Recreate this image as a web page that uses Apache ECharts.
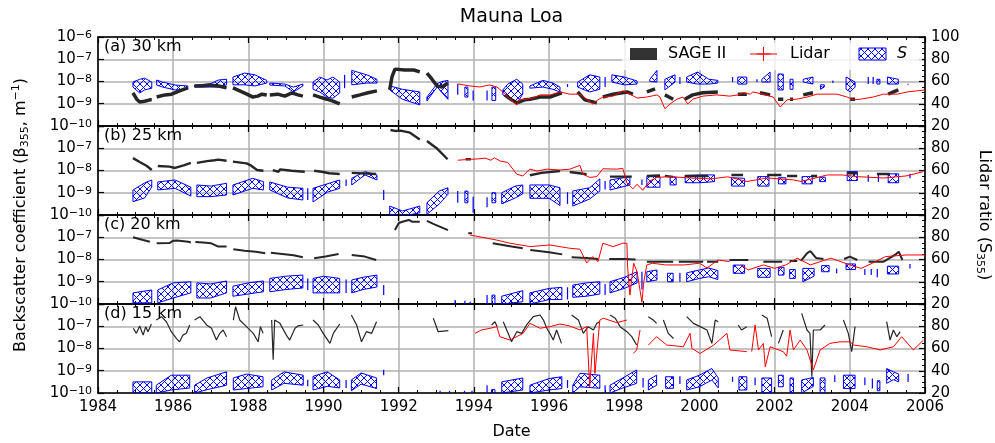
<!DOCTYPE html>
<html><head><meta charset="utf-8">
<script src="https://cdn.jsdelivr.net/npm/echarts@6/dist/echarts.min.js"></script>
<style>html,body{margin:0;padding:0;background:#fff}#c{width:995px;height:443px}</style>
</head><body><div id="c"></div>
<script>
// ---------------- DATA (decimal year, value) ----------------
const panelLabels = ['(a) 30 km', '(b) 25 km', '(c) 20 km', '(d) 15 km'];
const seriesNames = ['SAGE II', 'Lidar', 'S'];

const sageA = [
[1984.93,3.1e-9],[1985.03,1.6e-9],[1985.11,1.2e-9],[1985.24,1.3e-9],[1985.38,1.5e-9],[1985.43,1.5e-9],null,
[1985.56,2.0e-9],[1985.78,2.5e-9],[1985.96,2.7e-9],[1986.17,3.8e-9],[1986.39,5.2e-9],null,
[1986.57,6.3e-9],[1986.79,6.5e-9],[1986.97,7.0e-9],[1987.21,6.3e-9],[1987.42,5.2e-9],null,
[1987.59,5.2e-9],[1987.77,3.8e-9],[1987.96,2.7e-9],[1988.12,2.0e-9],[1988.25,2.2e-9],[1988.36,2.7e-9],[1988.49,2.5e-9],null,
[1988.57,2.5e-9],[1988.78,2.7e-9],[1988.97,2.2e-9],[1989.16,3.1e-9],[1989.32,2.5e-9],[1989.45,2.2e-9],null,
[1989.72,2.5e-9],[1989.90,2.0e-9],[1990.09,1.6e-9],[1990.25,1.3e-9],[1990.43,9.8e-10],null,
[1990.75,2.0e-9],[1990.97,2.5e-9],[1991.18,3.1e-9],[1991.42,3.8e-9],null,
[1991.76,4.2e-9],[1991.82,1.6e-8],[1991.90,3.6e-8],[1992.16,3.3e-8],[1992.40,3.3e-8],[1992.56,2.7e-8],null,
[1992.75,2.4e-8],[1992.88,1.3e-8],[1993.02,6.3e-9],[1993.15,5.7e-9],[1993.31,8.6e-9],null,
[1994.82,2.5e-9],[1995.00,1.5e-9],[1995.14,1.1e-9],[1995.35,1.5e-9],[1995.49,1.6e-9],[1995.76,2.0e-9],[1996.02,2.0e-9],[1996.34,3.1e-9],null,
[1996.76,3.4e-9],[1996.95,1.5e-9],[1997.27,1.1e-9],null,
[1997.43,2.0e-9],[1997.70,2.7e-9],[1998.07,3.4e-9],[1998.23,2.7e-9],null,
[1998.60,3.4e-9],[1998.82,4.7e-9],null,
[1999.08,2.5e-9],[1999.30,1.6e-9],null,
[1999.61,1.6e-9],[1999.82,2.5e-9],[2000.09,3.1e-9],[2000.49,3.4e-9],null,
[2001.02,2.7e-9],[2001.26,2.7e-9],null,
[2001.61,3.1e-9],[2001.88,2.5e-9],null,
[2002.09,1.6e-9],[2002.23,1.6e-9],null,
[2002.41,1.6e-9],[2002.49,1.6e-9],null,
[2002.76,2.5e-9],[2003.02,3.1e-9],null,
[2004.01,1.6e-9],[2004.14,1.6e-9],null,
[2005.02,2.7e-9],[2005.29,4.2e-9]
];
const lidarA = [
[1993.57,7.8e-9],[1993.89,6.3e-9],[1994.16,5.7e-9],[1994.42,7.0e-9],[1994.61,5.7e-9],[1994.77,3.4e-9],[1994.96,1.6e-9],[1995.14,8.8e-10],[1995.22,1.5e-9],[1995.35,1.6e-9],[1995.57,1.8e-9],[1995.76,2.5e-9],[1996.02,2.5e-9],[1996.29,3.4e-9],[1996.55,2.7e-9],[1996.82,2.7e-9],[1997.00,1.6e-9],[1997.16,9.8e-10],[1997.30,1.5e-9],[1997.43,2.0e-9],[1997.70,2.2e-9],[1997.96,3.8e-9],[1998.15,2.7e-9],[1998.34,1.8e-9],[1998.60,2.0e-9],[1998.87,2.5e-9],[1998.95,2.0e-9],[1999.08,6.0e-10],[1999.22,9.8e-10],[1999.40,1.6e-9],[1999.56,2.0e-9],[1999.69,9.8e-10],[1999.82,1.6e-9],[2000.09,2.2e-9],[2000.46,2.5e-9],[2000.81,2.2e-9],[2001.02,2.5e-9],[2001.16,3.1e-9],[2001.35,2.7e-9],[2001.42,3.4e-9],[2001.69,2.7e-9],[2001.96,2.0e-9],[2002.15,7.1e-10],[2002.33,1.5e-9],[2002.59,1.6e-9],[2002.86,2.0e-9],[2003.13,2.7e-9],[2003.39,2.7e-9],[2003.66,2.7e-9],[2003.93,2.0e-9],[2004.09,1.5e-9],[2004.28,1.6e-9],[2004.62,2.0e-9],[2004.89,2.7e-9],[2005.26,2.7e-9],[2005.53,3.4e-9],[2005.79,3.8e-9],[2006.0,4.2e-9]
];
const sA = [
[1984.93,55,59.5],[1985.11,49.7,62],[1985.24,52.4,63],[1985.43,54,59.5],null,
[1985.56,56.8,61.3],[1985.72,55,59.5],[1986.05,52.4,56.8],[1986.39,53,56],null,
[1986.57,55,56.8],[1986.97,55,57.7],[1987.2,55,61.3],[1987.42,57,62],null,
[1987.59,57,64],[1987.9,57,67.6],[1988.17,56,66],[1988.49,58.6,61],null,
[1988.57,56.8,58.6],[1988.97,56,57.7],[1989.2,50.6,55],[1989.45,56,57.7],null,
[1989.72,53,59.5],[1989.9,50.6,64],[1990.09,46,61.3],[1990.25,45,64],[1990.43,49.7,59.5],null,
[1990.56,54,66],null,
[1990.75,57,70],[1991.15,58.6,66],[1991.42,58.6,62],null,
[1991.76,52.4,56],[1992.1,44,53],[1992.56,39,50.6],null,
[1992.75,42.5,46],[1993.02,55,58],[1993.15,50,60],[1993.31,44,61],null,
[1993.57,48,57.7],null,
[1993.76,46,55],[1993.84,46,55],null,
[1993.98,43,52],null,
[1994.35,43,52],null,
[1994.48,43,55],[1994.58,43,55],null,
[1994.77,47.9,52.4],[1994.9,46,57.7],[1995.14,40,62],[1995.3,48.8,57.7],null,
[1995.49,54,56],[1995.84,55,61],[1996.1,53,58.6],[1996.29,50.6,55],null,
[1996.49,55,57.7],null,
[1996.76,55,59.5],[1997.08,50.6,66],[1997.35,53,64],null,
[1997.49,55,64],null,
[1997.67,59.5,66],[1998.0,57,64],[1998.34,57.7,60.5],null,
[1998.68,60,62],[1998.87,59.5,70],null,
[1999.08,52.4,62],[1999.35,59.5,66],null,
[1999.48,57.7,64],null,
[1999.66,59.5,64],[1999.95,57.7,68.5],[2000.25,57.7,62],[2000.49,58.6,61],null,
[2000.88,59.5,64],null,
[2001.02,57.7,64],[2001.26,57.7,64],null,
[2001.53,59.5,62],null,
[2001.66,59.5,62],[2001.88,59.5,68.5],null,
[2002.09,52.4,66.7],[2002.23,52.4,66.7],null,
[2002.41,53,62],[2002.49,53,62],null,
[2002.76,59.5,62],[2003.02,57.7,64],null,
[2003.22,53,57],[2003.32,55,57],null,
[2003.55,58.6,61],null,
[2003.9,53,64],[2004.01,50.6,62],[2004.14,55,59.5],null,
[2004.49,57.7,64],null,
[2004.62,57.7,64],null,
[2004.72,57.7,62],[2004.8,57.7,62],null,
[2005.0,57.7,64],[2005.29,57.7,62],null,
[2005.55,57,58]
];

const sageB = [
[1984.93,3.6e-8],[1985.11,2.4e-8],[1985.3,1.6e-8],[1985.43,1.05e-8],null,
[1985.59,1.6e-8],[1985.9,1.5e-8],[1986.05,1.3e-8],[1986.3,1.76e-8],[1986.47,2.2e-8],null,
[1986.63,2.2e-8],[1986.9,2.65e-8],[1987.1,2.9e-8],[1987.2,3.1e-8],[1987.42,2.75e-8],null,
[1987.59,2.5e-8],[1987.95,2.1e-8],[1988.05,1.76e-8],[1988.23,1.05e-8],[1988.4,9.8e-9],null,
[1988.65,1.05e-8],[1988.8,8.8e-9],[1988.85,1.13e-8],[1989.15,9.8e-9],[1989.5,8.8e-9],null,
[1989.75,9.8e-9],[1989.95,8.8e-9],[1990.15,7.5e-9],[1990.43,7.0e-9],null,
[1990.75,7.8e-9],[1991.4,7.0e-9],null,
[1991.78,6.6e-7],[1991.9,6.0e-7],[1992.05,6.2e-7],[1992.3,5.0e-7],[1992.56,2.5e-7],null,
[1992.75,2.1e-7],[1993.0,1.03e-7],[1993.3,3.2e-8],null,
[1993.78,3.2e-8],[1993.92,3.2e-8],null,
[1995.49,6.1e-9],[1995.8,7.8e-9],[1996.29,9.5e-9],null,
[1996.55,8.6e-9],[1997.0,6.8e-9],null,
[1997.62,5.3e-9],[1998.2,5.3e-9],null,
[1998.6,5.7e-9],[1998.95,6.0e-9],null,
[1999.08,5.7e-9],[1999.3,5.2e-9],null,
[1999.61,5.7e-9],[2000.23,5.7e-9],null,
[2000.85,6.3e-9],[2001.16,6.3e-9],null,
[2001.8,6.3e-9],[2002.18,6.3e-9],null,
[2002.33,5.7e-9],[2002.6,5.7e-9],null,
[2002.97,5.7e-9],[2003.13,5.7e-9],null,
[2003.93,7.5e-9],[2004.2,7.5e-9],null,
[2004.72,7.0e-9],[2005.06,7.0e-9]
];
const lidarB = [
[1993.57,2.9e-8],[1993.93,3.2e-8],[1994.1,3.3e-8],[1994.3,3.6e-8],[1994.45,2.9e-8],[1994.55,3.7e-8],[1994.7,2.65e-8],[1994.9,2.3e-8],[1995.14,6.8e-9],[1995.3,5.7e-9],[1995.49,1.15e-8],[1995.68,9.5e-9],[1995.95,1.15e-8],[1996.29,1.05e-8],[1996.55,1.15e-8],[1996.82,1.7e-8],[1996.9,6.8e-9],[1997.08,4.9e-9],[1997.27,5.3e-9],[1997.43,1.2e-8],[1997.8,1.15e-8],[1997.96,1.25e-8],[1998.07,2.8e-9],[1998.23,1.5e-9],[1998.34,2.4e-9],[1998.49,1.3e-9],[1998.68,3.4e-9],[1998.87,4.9e-9],[1999.22,5.3e-9],[1999.75,4.6e-9],[2000.3,4.2e-9],[2000.75,5.2e-9],[2000.9,4.6e-9],[2001.26,3.2e-9],[2001.8,4.6e-9],[2002.5,3.8e-9],[2002.7,3.2e-9],[2003.4,6.3e-9],[2003.8,6.3e-9],[2004.2,5.3e-9],[2004.9,4.6e-9],[2005.5,5.7e-9],[2005.95,8.8e-9]
];
const sB = [
[1984.93,32,42.5],[1985.24,35.3,48.8],[1985.43,45.2,51.5],null,
[1985.59,42.5,49.7],[1986.05,44,51.5],[1986.47,37,45],null,
[1986.63,36.5,47],[1987.0,36.5,46],[1987.42,38,48.5],null,
[1987.59,38,47],[1988.12,44,53],[1988.4,42.5,50],null,
[1988.57,42.5,49.7],[1989.05,35.3,45],[1989.45,33.5,44],null,
[1989.58,33.5,44],null,
[1989.72,31.7,44],[1990.1,40.5,48],[1990.43,44,51.5],null,
[1990.6,46,52],null,
[1990.75,47,53],[1991.1,56,59],[1991.42,51.5,56],null,
[1991.6,33.5,42.5],null,
[1991.76,20.6,28],[1992.1,19,23.6],[1992.56,22,28],null,
[1992.75,20.6,31],[1993.08,30,41.6],[1993.31,38.6,44.5],null,
[1993.57,31,41.5],null,
[1993.76,31,41.5],[1993.84,31,41.5],null,
[1993.98,22,36.5],null,
[1994.35,27,36],null,
[1994.48,31,40],[1994.58,31,40],null,
[1994.74,30,40],[1995.1,35.3,46],[1995.3,39,47],null,
[1995.49,35,47],[1996.0,35,47],[1996.29,28.5,44.5],null,
[1996.49,30,40.5],null,
[1996.63,28,41.6],[1997.08,34.4,44.5],[1997.35,41.6,52.4],null,
[1997.49,43,50.6],null,
[1997.62,42.5,51.5],[1998.15,47,54.4],null,
[1998.47,47,52],null,
[1998.6,45,54.5],[1998.95,45,54.5],null,
[1999.22,47,54.5],[1999.38,47,54],null,
[1999.62,49,55.5],[2000.0,49,56],[2000.4,50,56],null,
[2000.85,46,53.5],[2001.2,46,53],null,
[2001.55,46,54.5],[2001.85,46,54.5],null,
[2002.1,48,53.5],[2002.3,48,53.5],null,
[2002.73,48,54.5],[2003.0,48,54.5],null,
[2003.2,50,54],[2003.35,50,54],null,
[2003.93,51,59],[2004.2,51,59],null,
[2004.49,50,56],null,
[2004.76,50,56],null,
[2005.02,49,57],[2005.3,49,57],null,
[2005.6,53,57]
];

const sageC = [
[1984.93,1.0e-7],[1985.2,7.5e-8],[1985.38,6.3e-8],null,
[1985.56,5.4e-8],[1985.9,5.5e-8],[1986.0,7.0e-8],[1986.1,7.2e-8],[1986.4,6.3e-8],[1986.47,5.8e-8],null,
[1986.59,6.1e-8],[1986.8,5.8e-8],[1987.0,5.4e-8],[1987.2,3.8e-8],[1987.42,3.8e-8],null,
[1987.6,2.9e-8],[1987.9,2.5e-8],[1988.2,2.25e-8],[1988.45,1.9e-8],null,
[1988.6,2.0e-8],[1988.9,1.76e-8],[1989.2,1.55e-8],[1989.45,1.25e-8],null,
[1989.75,1.15e-8],[1990.05,1.35e-8],[1990.4,1.76e-8],null,
[1990.75,1.6e-8],[1991.1,1.35e-8],[1991.4,9.5e-9],null,
[1991.9,2.1e-7],[1992.0,4.4e-7],[1992.1,5.0e-7],[1992.27,6.0e-7],[1992.35,5.0e-7],[1992.56,5.0e-7],null,
[1992.75,5.4e-7],[1992.95,3.8e-7],[1993.31,2.1e-7],null,
[1993.85,1.5e-7],[1993.95,1.5e-7],null,
[1994.5,5.4e-8],[1995.0,3.8e-8],[1995.3,3.2e-8],null,
[1995.5,2.65e-8],[1996.0,2.1e-8],[1996.35,1.7e-8],null,
[1996.6,1.25e-8],[1997.0,1.17e-8],[1997.3,1.05e-8],null,
[1997.6,1.05e-8],[1998.0,1.05e-8],[1998.3,1.0e-8],null,
[1998.6,8.0e-9],[1999.3,8.0e-9],null,
[1999.45,8.0e-9],[2000.1,8.0e-9],null,
[2000.2,8.0e-9],[2000.5,8.0e-9],null,
[2000.8,9.5e-9],[2001.3,9.5e-9],null,
[2001.7,8.0e-9],[2002.2,8.0e-9],null,
[2002.4,8.6e-9],[2002.6,8.6e-9],null,
[2002.7,8.6e-9],[2002.86,1.9e-8],[2002.95,2.4e-8],[2003.1,1.17e-8],[2003.3,1.05e-8],null,
[2003.85,1.05e-8],[2004.0,1.35e-8],[2004.2,9.5e-9],null,
[2004.5,8.0e-9],[2004.9,8.0e-9],[2005.2,1.6e-8],[2005.3,2.25e-8],[2005.4,9.5e-9]
];
const lidarC = [
[1993.9,1.26e-7],[1994.6,7.5e-8],[1994.96,5.4e-8],[1995.5,3.8e-8],[1996.02,4.5e-8],[1996.55,3.2e-8],[1996.82,2.9e-8],[1997.0,7.0e-9],[1997.16,1.35e-8],[1997.3,8.0e-9],[1997.43,5.4e-8],[1997.7,3.8e-8],[1997.96,5.4e-8],[1998.07,5.4e-8],[1998.09,4.2e-9],[1998.15,2.5e-10],[1998.25,6.8e-9],[1998.34,2.8e-9],[1998.47,1.2e-10],[1998.52,1.0e-9],[1998.6,5.7e-9],[1998.75,6.8e-9],[1999.1,5.7e-9],[1999.6,5.7e-9],[2000.0,6.8e-9],[2000.2,4.2e-9],[2000.5,9.5e-9],[2000.8,8.0e-9],null,
[2001.1,5.7e-9],[2001.3,3.4e-9],[2001.7,5.7e-9],[2002.0,4.0e-9],[2002.3,5.7e-9],[2002.6,1.15e-8],[2002.95,5.7e-9],[2003.5,1.15e-8],[2004.0,5.7e-9],[2004.3,4.0e-9],[2004.6,6.8e-9],[2004.95,1.35e-8],[2005.5,1.6e-8],[2006.0,1.6e-8]
];
const sC = [
[1984.93,21,30],[1985.43,21,32.6],null,
[1985.59,21,32.6],[1986.0,25.4,39],[1986.47,30,40],null,
[1986.63,25.4,39],[1987.0,25.4,38],[1987.42,30,40.7],null,
[1987.59,27,36],[1988.0,29,39],[1988.4,31,40.7],null,
[1988.57,31,43],[1989.0,33,45],[1989.45,34.4,46],null,
[1989.58,32.5,43],null,
[1989.72,30,43],[1990.0,30,45],[1990.43,30,43],null,
[1990.6,30,42],null,
[1990.75,30,41.6],[1991.05,33,44],[1991.42,35.3,46],null,
[1991.6,28,37],null,
[1993.5,20,23.6],null,[1993.76,20,23],null,[1993.9,20,22],null,
[1994.35,20,28],null,
[1994.48,20,28],[1994.56,20,28],null,
[1994.74,20,27],[1995.3,22,32],null,
[1995.49,20,30],[1996.0,24,34],[1996.34,24,35],null,
[1996.49,24,35],null,
[1996.63,26,37],[1997.0,27,39],[1997.35,29,40],null,
[1997.49,28,38],null,
[1997.62,30,40],[1998.0,34,44],[1998.34,39,49],null,
[1998.47,33,49],null,
[1998.6,40,49],[1998.87,41.6,50.6],null,
[1999.15,40,47.6],[1999.3,40,47.6],null,
[1999.48,40,48],null,
[1999.66,40,48],[2000.0,43,50.6],[2000.25,44.5,52.4],[2000.49,42,50],null,
[2000.9,47.6,55],[2001.2,47.6,55],null,
[2001.55,44,52],[2001.88,44,52],null,
[2002.1,46,53],[2002.25,46,53],null,
[2002.4,43,51],[2002.55,43,51],null,
[2002.75,40,52],[2003.05,45,52],null,
[2003.25,49,54.5],[2003.45,49,54.5],null,
[2003.65,47.6,52],null,
[2003.9,51,56],[2004.15,51,56],null,
[2004.4,46,51.5],null,[2004.57,46,51.5],null,
[2004.73,44,51.5],null,
[2005.0,47,54],[2005.3,47,54],null,
[2005.6,52,56]
];

const sageD = [
[1984.94,8.1e-8],[1985.02,4.8e-8],[1985.11,1.03e-7],[1985.2,4.0e-8],[1985.27,9.6e-8],[1985.33,5.7e-8],[1985.42,1.26e-7],null,
[1985.55,1.9e-7],[1985.69,2.7e-7],[1985.82,1.6e-7],[1985.95,5.7e-8],[1986.09,2.8e-8],[1986.17,2.0e-8],[1986.26,4.0e-8],[1986.35,4.8e-8],[1986.44,1.14e-7],null,
[1986.57,1.9e-7],[1986.71,2.7e-7],[1986.89,1.14e-7],[1987.02,8.1e-8],[1987.15,2.4e-8],[1987.24,4.8e-8],[1987.33,6.8e-8],[1987.42,3.4e-8],null,
[1987.6,1.9e-7],[1987.66,7.6e-7],[1987.77,1.9e-7],[1987.95,9.6e-8],[1988.13,4.8e-8],[1988.26,2.0e-8],[1988.32,9.6e-8],[1988.39,4.8e-8],null,
[1988.62,1.9e-7],[1988.66,3.1e-9],[1988.7,1.9e-7],[1988.84,1.35e-7],[1989.01,4.0e-8],[1989.1,2.4e-8],[1989.24,8.1e-8],[1989.32,1.03e-7],[1989.46,1.14e-7],null,
[1989.72,1.9e-7],[1989.86,1.14e-7],[1989.99,4.8e-8],[1990.17,1.7e-8],[1990.26,4.8e-8],[1990.43,1.26e-7],null,
[1990.74,3.2e-7],[1990.88,1.14e-7],[1991.01,2.0e-8],[1991.14,5.7e-8],[1991.28,4.8e-8],[1991.41,1.6e-7],null,
[1992.92,2.3e-7],[1993.05,5.7e-8],[1993.32,6.3e-8],null,
[1994.47,1.14e-7],[1994.56,1.6e-7],[1994.62,9.6e-8],null,
[1994.78,1.6e-7],[1994.91,4.8e-8],[1995.0,2.0e-8],[1995.14,5.7e-8],[1995.27,4.8e-8],[1995.4,1.14e-7],[1995.58,2.7e-7],[1995.76,3.2e-7],[1995.85,1.9e-7],[1995.94,8.1e-8],[1996.02,4.8e-8],[1996.11,2.4e-8],[1996.2,6.8e-8],[1996.33,1.7e-8],null,
[1996.6,3.2e-7],[1996.78,1.9e-7],[1996.91,4.8e-8],[1997.04,9.6e-8],[1997.18,6.8e-8],[1997.27,1.35e-7],[1997.35,1.6e-7],null,
[1997.62,3.2e-7],[1997.76,2.3e-7],[1997.89,9.6e-8],[1998.07,5.7e-8],[1998.2,3.4e-8],[1998.33,1.43e-8],null,
[1998.64,2.7e-7],[1998.77,1.9e-7],[1998.86,1.35e-7],null,
[1999.04,1.9e-7],[1999.17,4.8e-8],[1999.31,2.8e-8],null,
[1999.66,2.7e-7],[1999.84,1.35e-7],[2000.02,9.6e-8],[2000.2,6.8e-8],[2000.33,1.7e-8],[2000.42,1.9e-7],[2000.5,1.6e-7],null,
[2001.03,1.14e-7],[2001.12,6.8e-8],[2001.26,9.6e-8],null,
[2001.66,3.2e-7],[2001.8,2.3e-7],[2001.92,3.4e-8],null,
[2002.1,1.7e-8],[2002.23,6.8e-8],null,
[2002.72,3.8e-7],[2002.86,6.8e-8],[2002.94,4.8e-8],[2002.99,5.4e-10],[2003.03,6.8e-8],[2003.21,6.8e-8],[2003.34,1.14e-7],null,
[2003.83,1.9e-7],[2003.96,4.8e-8],[2004.05,7.2e-9],[2004.14,9.6e-8],null,
[2004.98,1.6e-7],[2005.07,2.4e-8],[2005.16,6.8e-8],[2005.25,3.4e-8],[2005.34,5.7e-8]
];
const lidarD = [
[1994.03,4.8e-8],[1994.2,6.8e-8],[1994.43,8.1e-8],[1994.61,9.6e-8],[1994.69,3.4e-8],[1994.96,2.4e-8],[1995.31,4.8e-8],[1995.49,1.35e-7],[1995.76,8.1e-8],[1996.02,9.6e-8],[1996.29,1.26e-7],[1996.55,1.03e-7],[1996.82,6.8e-8],[1997.0,9.6e-8],[1997.08,1.9e-10],[1997.18,4.8e-8],[1997.22,7.6e-10],[1997.35,1.9e-7],[1997.44,2.3e-7],[1997.8,1.45e-7],[1998.07,1.9e-7],null,
[1998.24,6.0e-9],[1998.33,8.6e-9],[1998.42,6.8e-8],null,
[1998.64,1.43e-8],[1998.86,3.4e-8],[1999.13,1.43e-8],[1999.57,1.2e-8],[1999.75,4.8e-8],[1999.8,1.0e-8],[2000.02,6.0e-9],[2000.38,1.43e-8],[2000.73,4.8e-8],[2000.81,8.6e-9],[2001.26,7.2e-9],null,
[2001.39,7.2e-9],[2001.48,1.14e-7],[2001.57,8.6e-9],[2001.7,1.7e-8],[2001.75,1.5e-9],[2001.88,1.2e-8],[2002.23,7.2e-9],[2002.32,4.5e-9],[2002.41,6.8e-8],[2002.5,8.6e-9],[2002.68,2.4e-8],[2002.86,8.6e-9],[2003.03,1.1e-9],[2003.21,8.6e-9],[2003.47,1.7e-8],[2003.74,2.0e-8],[2004.01,2.0e-8],[2004.1,1.43e-8],[2004.45,1.2e-8],[2004.81,8.6e-9],[2005.16,1.2e-8],[2005.38,3.4e-8],[2005.69,8.6e-9],[2005.96,2.4e-8]
];
const sD = [
[1984.93,20,30],[1985.43,20,30],null,
[1985.55,20,27],[1985.95,22.7,36],[1986.44,24.5,36],null,
[1986.57,20,27],[1986.9,23,33.5],[1987.42,27,39],null,
[1987.6,22.7,33.5],[1987.95,24,37],[1988.39,25.6,34.6],null,
[1988.62,22.7,31.7],[1988.95,28.7,39],[1989.46,27,36],null,
[1989.58,26,32],null,
[1989.72,22.7,35],[1990.1,26,39],[1990.43,24.5,31.7],null,
[1990.6,24.5,31.7],null,
[1990.74,22,31.7],[1991.0,28,38],[1991.41,24,33.5],null,
[1991.6,36,41],null,
[1993.1,20,22],null,[1993.35,20,22],null,[1993.75,20,22],null,[1993.95,20,22],null,
[1994.35,20,27],null,
[1994.47,20,23],[1994.56,20,23],null,
[1994.74,20,30],[1995.3,22.7,33.5],null,
[1995.49,20,27],[1996.0,22.7,33],[1996.34,24,34.6],null,
[1996.49,24.5,31.7],null,
[1996.63,20,27],[1996.82,25.6,37.7],[1997.35,24.2,36],null,
[1997.49,20,27],null,
[1997.62,20,27],[1997.96,24.5,33.5],[1998.33,28.7,40.7],null,
[1998.5,25,33.5],null,
[1998.64,22.7,31.7],[1998.86,27,36],null,
[1999.1,24.2,34.6],[1999.31,24.2,34.6],null,
[1999.48,28,35],null,
[1999.66,22.7,31.7],[2000.0,25.6,36],[2000.33,31.7,42],[2000.5,24.5,33.5],null,
[2000.88,30,34.6],null,
[2001.05,22.7,34.6],[2001.26,22.7,34.6],null,
[2001.48,27,34],null,
[2001.66,20,33.5],[2001.92,20,33.5],null,
[2002.1,25.6,36],[2002.23,25.6,36],null,
[2002.41,20,33.5],[2002.5,20,33.5],null,
[2002.72,20,31.7],[2003.03,26,34],null,
[2003.21,20,33.5],[2003.34,20,33.5],null,
[2003.6,30,36],null,
[2003.83,24,36],[2004.14,24,36],null,
[2004.4,27,34],null,[2004.6,24,33],null,
[2004.73,22,31],[2004.8,22,31],null,
[2004.98,28.7,42],[2005.16,32,39],[2005.3,30,37],null,
[2005.55,30,37]
];

// ---------------- RENDER ----------------
const FONT = 'DejaVu Sans';
const tops = [37, 126, 215, 304], H = 89, L = 98, W = 827;
const BLUE = '#0000ff', RED = '#ff0000', BLACK = '#000000', SAGEC = '#262626';

const hc = document.createElement('canvas'); hc.width = 7; hc.height = 7;
(function(){ const g = hc.getContext('2d'); g.strokeStyle = BLUE; g.lineWidth = 1;
  g.beginPath(); g.moveTo(0,0); g.lineTo(7,7); g.moveTo(7,0); g.lineTo(0,7); g.stroke(); })();
const hatch = {image: hc, repeat: 'repeat'};

function toLine(arr){ const out=[]; let lx=1984; arr.forEach(p=>{ if(p===null) out.push([lx,'-']); else { out.push(p); lx=p[0]; } }); return out; }
function toSegs(arr){ const s=[]; let cur=[]; arr.forEach(p=>{ if(p===null){ if(cur.length) s.push(cur); cur=[]; } else cur.push(p); }); if(cur.length) s.push(cur); return s; }

const panels = [
  {sage: sageA, lidar: lidarA, s: sA, w: 3.5},
  {sage: sageB, lidar: lidarB, s: sB, w: 2.4},
  {sage: sageC, lidar: lidarC, s: sC, w: 2},
  {sage: sageD, lidar: lidarD, s: sD, w: 1.2}
];

const axLine = {show:true, onZero:false, lineStyle:{color:BLACK, width:1.6}};
const grid = [], xAxis = [], yAxis = [], series = [];
const supMap = e => (e<0?'\u2212':'') + Math.abs(e);

tops.forEach((t,i)=>{
  grid.push({left:L, top:t, width:W, height:H, containLabel:false, outerBoundsMode:'none'});
});
tops.forEach((t,i)=>{
  xAxis.push({type:'value', gridIndex:i, position:'bottom', min:1984, max:2006, interval:2,
    axisLine:axLine, axisTick:{show:true, inside:true, length:6, lineStyle:{color:BLACK, width:1.2}},
    minorTick:{show:true, splitNumber:4, length:3, lineStyle:{color:BLACK, width:1}},
    axisLabel:{show:i===3, color:BLACK, fontFamily:FONT, fontSize:15, margin:7, formatter: v => String(Math.round(v))},
    splitLine:{show:true, lineStyle:{color:'#b0b0b0', width:1.5}}});
});
tops.forEach((t,i)=>{
  xAxis.push({type:'value', gridIndex:i, position:'top', min:1984, max:2006, interval:2,
    axisLine:axLine, axisTick:{show:true, inside:true, length:6, lineStyle:{color:BLACK, width:1.2}},
    minorTick:{show:true, splitNumber:4, length:3, lineStyle:{color:BLACK, width:1}},
    axisLabel:{show:false}, splitLine:{show:false}});
});
tops.forEach((t,i)=>{
  yAxis.push({type:'log', logBase:10, gridIndex:i, position:'left', min:1e-10, max:1e-6,
    axisLine:axLine, axisTick:{show:true, inside:true, length:6, lineStyle:{color:BLACK, width:1.2}},
    minorTick:{show:false},
    axisLabel:{show:true, showMaxLabel:true, showMinLabel:true, margin:6,
      formatter: v => { const e = Math.round(Math.log10(v)); if (i>0 && e>=-6) return ''; return '{b|10}{s|' + supMap(e) + '}'; },
      rich:{ b:{fontFamily:FONT, fontSize:15, color:BLACK}, s:{fontFamily:FONT, fontSize:11, color:BLACK, verticalAlign:'top', lineHeight:11} }},
    splitLine:{show:true, lineStyle:{color:'#b0b0b0', width:1.5}}});
});
tops.forEach((t,i)=>{
  yAxis.push({type:'value', gridIndex:i, position:'right', min:20, max:100, interval:20,
    axisLine:axLine, axisTick:{show:true, inside:true, length:6, lineStyle:{color:BLACK, width:1.2}},
    minorTick:{show:true, splitNumber:4, length:3, lineStyle:{color:BLACK, width:1}},
    axisLabel:{show:true, margin:6, color:BLACK, fontFamily:FONT, fontSize:15,
      formatter: v => (i>0 && v>=100) ? '' : String(v)},
    splitLine:{show:false}});
});

panels.forEach((p,i)=>{
  const segs = toSegs(p.s);
  series.push({type:'custom', name:seriesNames[2], xAxisIndex:i, yAxisIndex:4+i, clip:true, z:2, animation:false,
    data: segs.map((s,k)=>[s[0][0], s[0][1], k]), encode:{x:0, y:1},
    renderItem:(params, api)=>{
      const seg = segs[params.dataIndex];
      if (seg.length === 1) {
        const a = api.coord([seg[0][0], seg[0][1]]), b = api.coord([seg[0][0], seg[0][2]]);
        return {type:'line', shape:{x1:a[0], y1:a[1], x2:b[0], y2:b[1]}, style:{stroke:BLUE, lineWidth:1.2}};
      }
      const up = seg.map(q=>api.coord([q[0], q[2]]));
      const lo = seg.map(q=>api.coord([q[0], q[1]])).reverse();
      return {type:'polygon', shape:{points: up.concat(lo)}, style:{fill:hatch, stroke:BLUE, lineWidth:1}};
    }});
  series.push({type:'line', name:seriesNames[0], xAxisIndex:i, yAxisIndex:i, data:toLine(p.sage), showSymbol:false,
    connectNulls:false, z:3, animation:false, lineStyle:{color:SAGEC, width:p.w}});
  series.push({type:'line', name:seriesNames[1], xAxisIndex:i, yAxisIndex:i, data:toLine(p.lidar), showSymbol:false,
    connectNulls:false, z:4, animation:false, lineStyle:{color:RED, width:1}});
});

const graphic = [
  {type:'text', x:511.5, y:17, style:{text:'Mauna Loa', fontFamily:FONT, fontSize:19, fill:BLACK, align:'center', verticalAlign:'middle'}},
  {type:'text', x:511.5, y:432, style:{text:'Date', fontFamily:FONT, fontSize:16, fill:BLACK, align:'center', verticalAlign:'middle'}},
  {type:'text', x:21, y:215, rotation:Math.PI/2, style:{
     text:'{n|Backscatter coefficient (\u03b2}{sub|355}{n|, m}{sup|\u22121}{n|)}',
     align:'center', verticalAlign:'middle',
     rich:{ n:{fontFamily:FONT, fontSize:16, fill:BLACK, lineHeight:20},
            sub:{fontFamily:FONT, fontSize:11, fill:BLACK, verticalAlign:'bottom', lineHeight:11},
            sup:{fontFamily:FONT, fontSize:11, fill:BLACK, verticalAlign:'top', lineHeight:11} }}},
  {type:'text', x:984, y:215, rotation:-Math.PI/2, style:{
     text:'{n|Lidar ratio (S}{sub|355}{n|)}', align:'center', verticalAlign:'middle',
     rich:{ n:{fontFamily:FONT, fontSize:16, fill:BLACK, lineHeight:20},
            sub:{fontFamily:FONT, fontSize:11, fill:BLACK, verticalAlign:'bottom', lineHeight:11} }}},
  // legend
  {type:'rect', z:50, shape:{x:622, y:40, width:300, height:30}, style:{fill:'rgba(255,255,255,0.8)'}},
  {type:'rect', z:51, shape:{x:630, y:48, width:27, height:12}, style:{fill:'#333333'}},
  {type:'text', z:51, x:668, y:54, style:{text:seriesNames[0], fontFamily:FONT, fontSize:16, fill:BLACK, verticalAlign:'middle'}},
  {type:'line', z:51, shape:{x1:750, y1:54, x2:777, y2:54}, style:{stroke:RED, lineWidth:1}},
  {type:'line', z:51, shape:{x1:763.5, y1:47, x2:763.5, y2:61}, style:{stroke:RED, lineWidth:1}},
  {type:'line', z:51, shape:{x1:756.5, y1:54, x2:770.5, y2:54}, style:{stroke:RED, lineWidth:1}},
  {type:'text', z:51, x:790, y:54, style:{text:seriesNames[1], fontFamily:FONT, fontSize:16, fill:BLACK, verticalAlign:'middle'}},
  {type:'rect', z:51, shape:{x:859, y:48, width:27, height:12}, style:{fill:hatch, stroke:BLUE, lineWidth:1}},
  {type:'text', z:51, x:897, y:54, style:{text:seriesNames[2], fontFamily:FONT, fontSize:16, fontStyle:'italic', fill:BLACK, verticalAlign:'middle'}}
];
panelLabels.forEach((lab,i)=>{
  graphic.push({type:'text', z:40, x:104, y:tops[i]+10, style:{text:lab, fontFamily:FONT, fontSize:16, fill:BLACK, verticalAlign:'middle'}});
});

const chart = echarts.init(document.getElementById('c'), null, {renderer:'canvas', width:995, height:443, devicePixelRatio:1});
chart.setOption({animation:false, backgroundColor:'#ffffff', grid, xAxis, yAxis, series, graphic});
</script></body></html>
